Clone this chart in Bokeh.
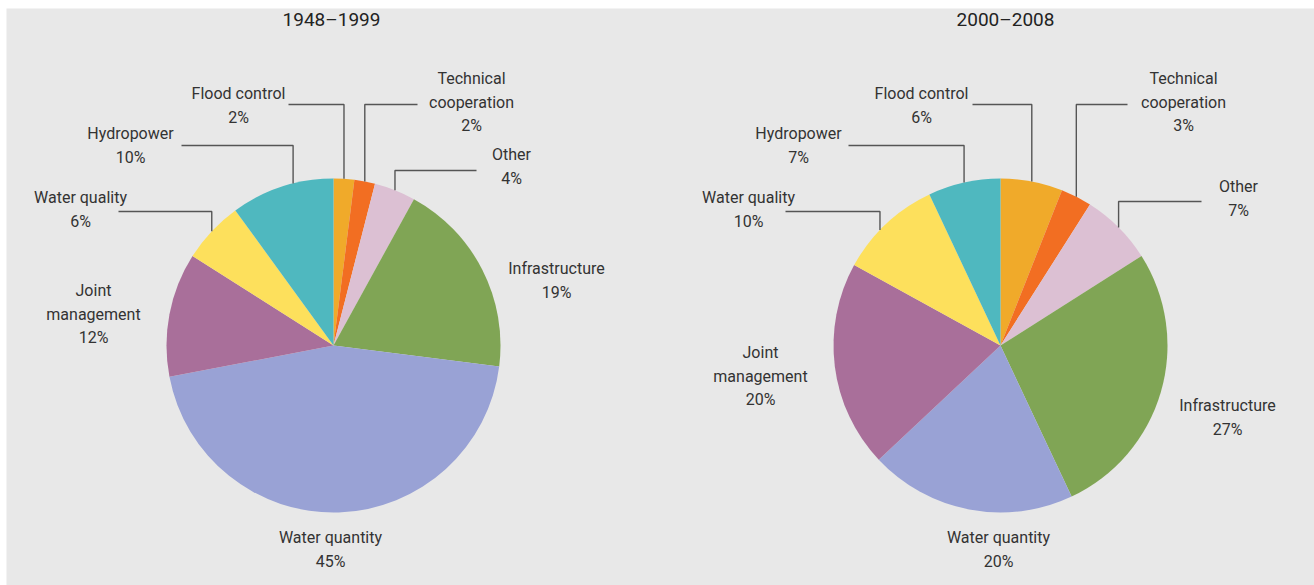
import math
from bokeh.plotting import figure
from bokeh.models import ColumnDataSource
from bokeh.core.properties import value
from bokeh.embed import file_html
from bokeh.resources import INLINE

# ---------------- data ----------------
categories = ["Flood control", "Technical\ncooperation", "Other", "Infrastructure",
              "Water quantity", "Joint\nmanagement", "Water quality", "Hydropower"]
colors = ["#f0aa2a", "#f26e22", "#dcc0d3", "#80a555", "#99a2d5", "#a96f9a", "#fde05c", "#4fb8bf"]
shares_1948_1999 = [2, 2, 4, 19, 45, 12, 6, 10]
shares_2000_2008 = [6, 3, 7, 27, 20, 20, 10, 7]
titles = ["1948–1999", "2000–2008"]

# ---------------- layout (pixel coordinates, y downwards) ----------------
W, H = 1314, 585
PAD_L, PAD_T = 6, 8
centers = [(333, 345), (1000, 345)]
R = 167
title_pos = [(331, 19), (1005, 19)]
# label anchor (center x, first-line y), leader y (None = no leader), leader end x, anchor nudge (deg)
label_layout = [
    [  # left pie
        (238, 93, 104, 288, 0),
        (471, 78, 104, 417, 0),
        (511, 154, 170, 476, 0),
        (556, 268, None, None, 0),
        (330, 537, None, None, 0),
        (93, 290, None, None, 0),
        (80, 197, 211, 118, 0),
        (130, 133, 145, 181, 4),
    ],
    [  # right pie
        (921, 93, 104, 972, 0),
        (1183, 78, 104, 1127, 0),
        (1238, 186, 201, 1201, 0),
        (1227, 405, None, None, 0),
        (998, 537, None, None, 0),
        (760, 352, None, None, 0),
        (748, 197, 211, 785, -3),
        (798, 133, 145, 848, 0),
    ],
]
LINE_H = 23.5
FONT = "Roboto"


def Y(ypix):
    return H - ypix


p = figure(width=W, height=H, output_backend="svg", toolbar_location=None,
           x_range=(PAD_L, W), y_range=(0, H - PAD_T),
           min_border_left=PAD_L, min_border_top=PAD_T, min_border_right=0, min_border_bottom=0)
p.axis.visible = False
p.grid.visible = False
p.outline_line_color = None
p.background_fill_color = "#e8e8e8"
p.border_fill_color = "#ffffff"

for k, shares in enumerate([shares_1948_1999, shares_2000_2008]):
    cx, cy = centers[k]
    total = float(sum(shares))
    starts, ends, mids = [], [], []
    acc = 0.0
    for v in shares:
        a0 = acc / total
        acc += v
        a1 = acc / total
        starts.append(math.pi / 2 - 2 * math.pi * a0)
        ends.append(math.pi / 2 - 2 * math.pi * a1)
        mids.append(2 * math.pi * (a0 + a1) / 2)
    src = ColumnDataSource(dict(start=starts, end=ends, color=colors,
                                x=[cx] * len(shares), y=[Y(cy)] * len(shares)))
    p.wedge(x="x", y="y", radius=R, start_angle="start", end_angle="end",
            direction="clock", fill_color="color", line_color=None, source=src)

    # title
    tx, ty = title_pos[k]
    p.text(x=[tx], y=[Y(ty)], text=[titles[k]], text_align="center", text_baseline="middle",
           text_font=value(FONT), text_font_size="19px", text_color="#222222")

    # labels + leaders
    for i, cat in enumerate(categories):
        lx, ly, leader_y, leader_x, nudge = label_layout[k][i]
        lines = cat.split("\n") + ["%d%%" % shares[i]]
        p.text(x=[lx] * len(lines), y=[Y(ly + j * LINE_H) for j in range(len(lines))], text=lines,
               text_align="center", text_baseline="middle",
               text_font=value(FONT), text_font_size="16px", text_color="#333333")
        if leader_y is not None:
            ang = mids[i] + math.radians(nudge)
            ax = cx + R * math.sin(ang)
            ay = cy - R * math.cos(ang)
            p.line(x=[leader_x, ax, ax], y=[Y(leader_y), Y(leader_y), Y(ay)],
                   line_color="#555555", line_width=1.4)

open("out.html", "w").write(file_html(p, INLINE))
